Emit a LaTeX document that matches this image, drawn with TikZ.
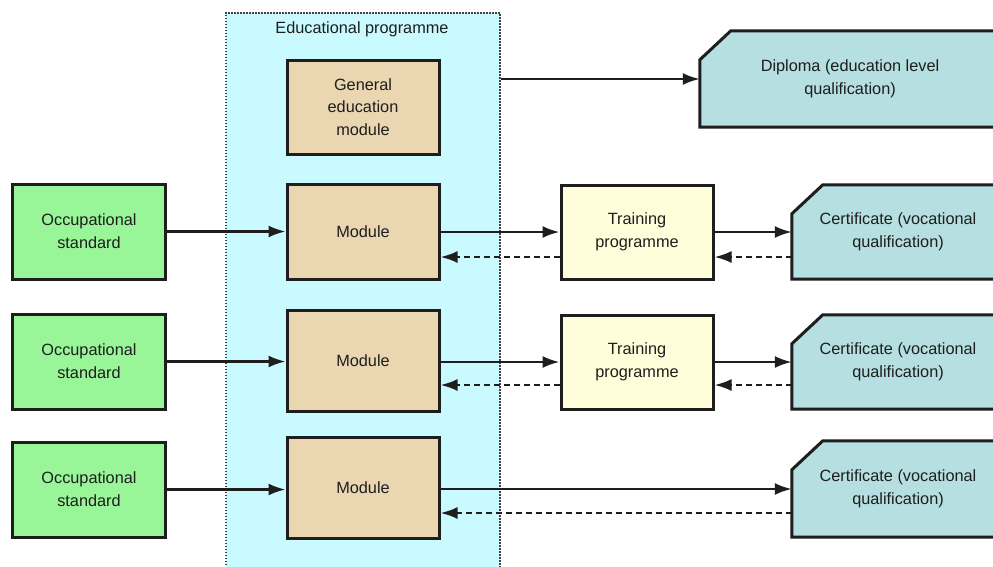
\documentclass[tikz,border=0pt]{standalone}
\usepackage{fontspec}
\setmainfont{Liberation Sans}
\usetikzlibrary{arrows.meta,calc}
\definecolor{ink}{HTML}{1E1E1E}
\definecolor{occcol}{HTML}{98F598}
\definecolor{modcol}{HTML}{EAD6B0}
\definecolor{trcol}{HTML}{FFFDDA}
\definecolor{certcol}{HTML}{B5DFE0}
\definecolor{educol}{HTML}{C8FAFF}
\tikzset{
  base/.style={rectangle, line width=3pt, draw=ink, text=ink, align=center,
    font=\fontsize{16.3}{22.8}\selectfont, inner sep=0pt},
  occbox/.style={base, fill=occcol, minimum width=153pt, minimum height=95pt},
  modbox/.style={base, fill=modcol, minimum width=152pt, minimum height=98pt},
  trbox/.style={base, fill=trcol, minimum width=152pt, minimum height=94pt},
  shell/.style={rectangle, draw=none, fill=none, inner sep=0pt},
  chamf/.style={line width=3pt, draw=ink, line join=miter},
  lbl/.style={text=ink, align=center, font=\fontsize{16.3}{22.8}\selectfont, inner sep=0pt},
  conn/.style={line width=2.4pt, draw=ink, -{Latex[length=17pt,width=12pt]}},
  back/.style={conn, dash pattern=on 6pt off 4pt},
}
\newcommand{\chbox}[1]{%
  \fill[certcol] (#1.south west) -- ($(#1.north west)+(0,29)$) -- ($(#1.north west)+(31,0)$) -- (#1.north east) -- (#1.south east) -- cycle;
  \draw[chamf] (#1.south west) -- ($(#1.north west)+(0,29)$) -- ($(#1.north west)+(31,0)$) -- (#1.north east) -- (#1.south east) -- cycle;}
\begin{document}
\begin{tikzpicture}[x=1pt,y=-1pt]
\useasboundingbox (0,0) rectangle (993,566);
\clip (0,0) rectangle (993,566);
\fill[white] (0,0) rectangle (993,566);
% educational programme area
\node[rectangle, fill=educol, draw=ink!85, line width=1.5pt, dash pattern=on 1.5pt off 1.5pt,
  minimum width=274pt, minimum height=590pt, anchor=north west, inner sep=0pt] (edu) at (225,12) {};
\node[lbl] (edutitle) at (362,29) {Educational programme};
\node[modbox, minimum height=94pt] (gen) at (363,107) {General\\education\\module};
% diploma
\node[shell, minimum width=300pt, minimum height=96pt] (dip) at (850,79) {};
\chbox{dip}
\node[lbl] (diptext) at (dip) {Diploma (education level\\qualification)};
% row 1
\node[occbox] (occ1) at (89,231.5) {Occupational\\standard};
\node[modbox, minimum height=95pt] (mod1) at (363,231.5) {Module};
\node[trbox] (tr1) at (637,232) {Training\\programme};
\node[shell, minimum width=212pt, minimum height=94pt] (cert1) at (898,232) {};
\chbox{cert1}
\node[lbl] (cert1t) at (cert1) {Certificate (vocational\\qualification)};
% row 2
\node[occbox] (occ2) at (89,361.5) {Occupational\\standard};
\node[modbox, minimum height=101pt] (mod2) at (363,361) {Module};
\node[trbox] (tr2) at (637,362) {Training\\programme};
\node[shell, minimum width=212pt, minimum height=94pt] (cert2) at (898,362) {};
\chbox{cert2}
\node[lbl] (cert2t) at (cert2) {Certificate (vocational\\qualification)};
% row 3
\node[occbox] (occ3) at (89,489.5) {Occupational\\standard};
\node[modbox, minimum height=101pt] (mod3) at (363,487.5) {Module};
\node[shell, minimum width=212pt, minimum height=96pt] (cert3) at (898,489) {};
\chbox{cert3}
\node[lbl] (cert3t) at (cert3) {Certificate (vocational\\qualification)};
% connectors
\draw[conn] (edu.east |- dip.west) -- (dip.west);
\draw[conn] (occ1.east) -- (occ1.east -| mod1.west);
\draw[conn] (occ2.east) -- (occ2.east -| mod2.west);
\draw[conn] (occ3.east) -- (occ3.east -| mod3.west);
\draw[conn] (tr1.west -| mod1.east) -- (tr1.west);
\draw[conn] (tr1.east) -- (cert1.west);
\draw[back] ([yshift=-25pt]tr1.west) -- ([yshift=-25pt]tr1.west -| mod1.east);
\draw[back] ([yshift=-25pt]cert1.west) -- ([yshift=-25pt]cert1.west -| tr1.east);
\draw[conn] (tr2.west -| mod2.east) -- (tr2.west);
\draw[conn] (tr2.east) -- (cert2.west);
\draw[back] ([yshift=-23pt]tr2.west) -- ([yshift=-23pt]tr2.west -| mod2.east);
\draw[back] ([yshift=-23pt]cert2.west) -- ([yshift=-23pt]cert2.west -| tr2.east);
\draw[conn] (cert3.west -| mod3.east) -- (cert3.west);
\draw[back] ([yshift=-24pt]cert3.west) -- ([yshift=-24pt]cert3.west -| mod3.east);
\end{tikzpicture}
\end{document}
